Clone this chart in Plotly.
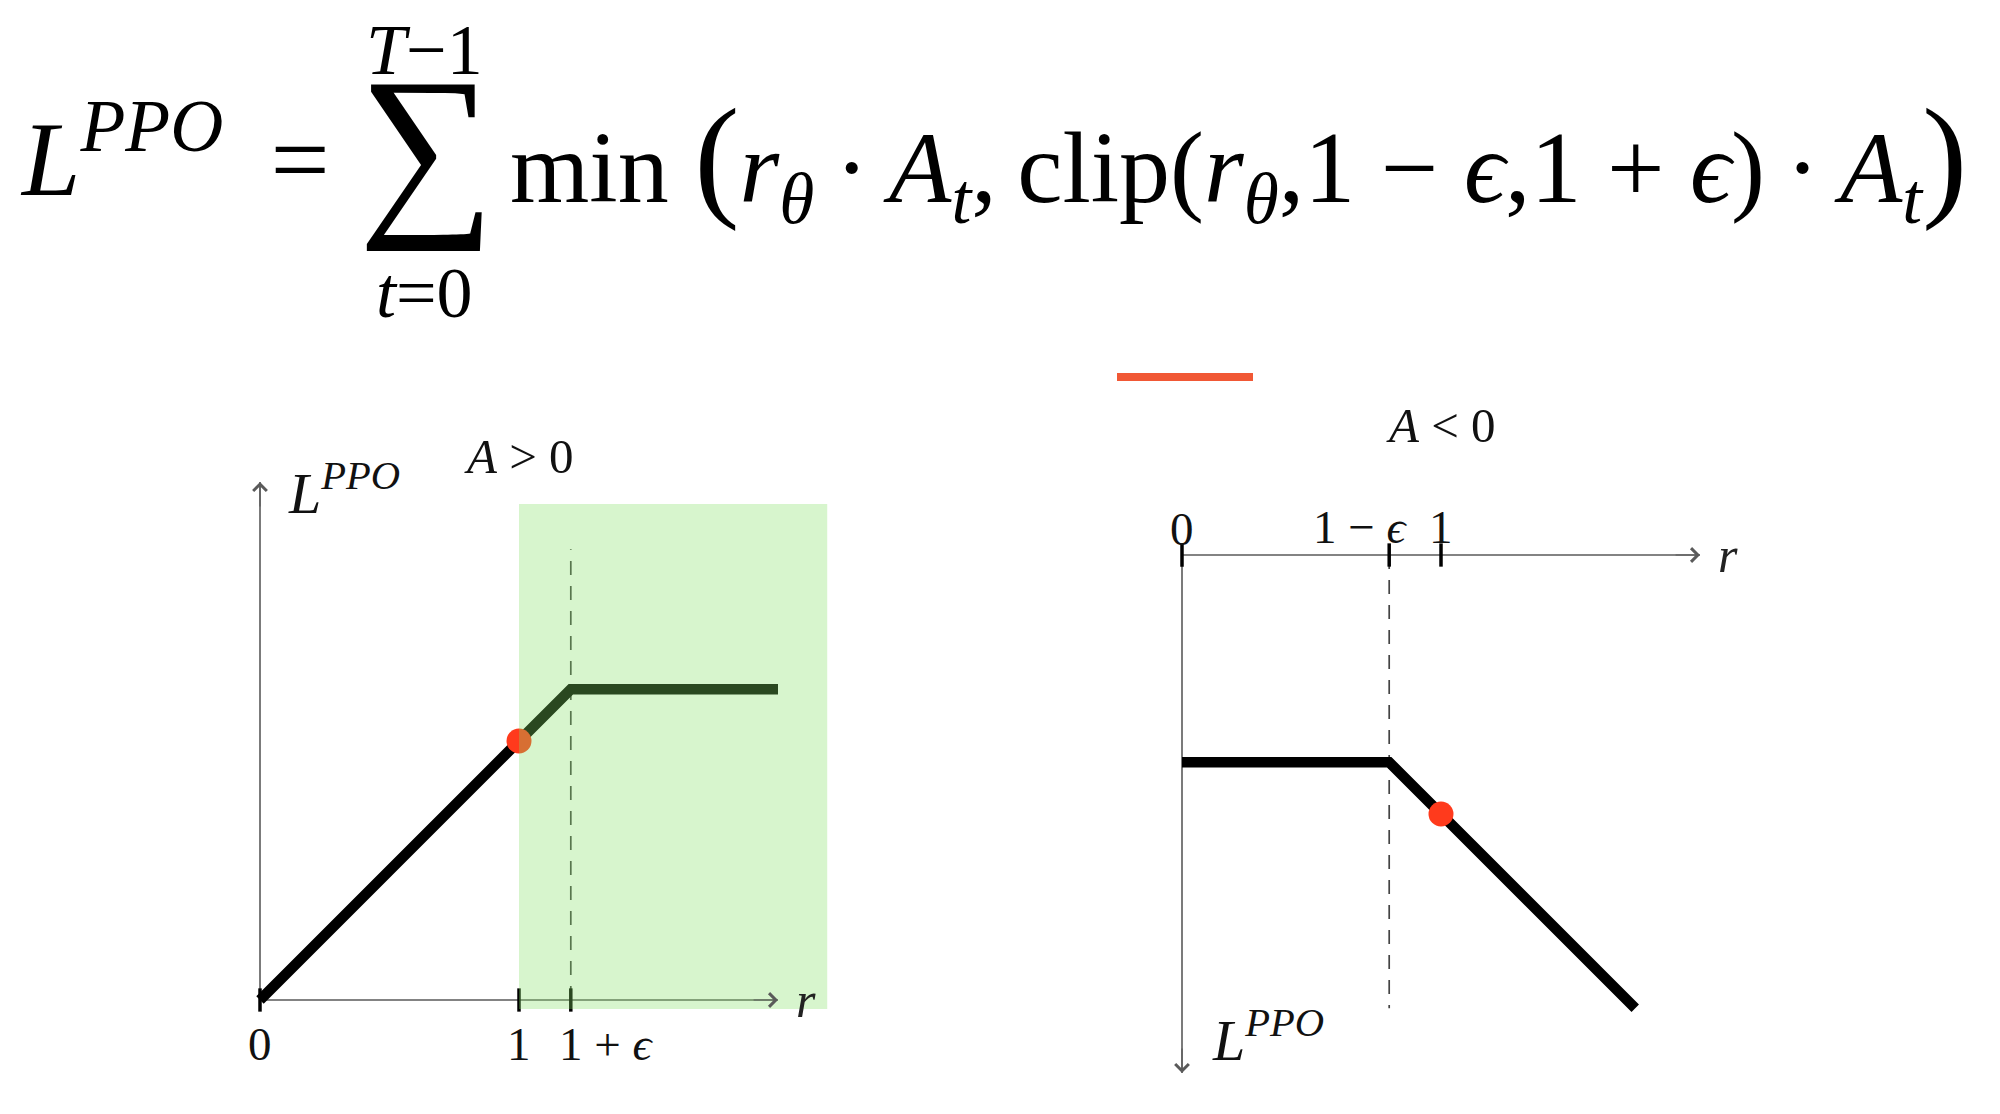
import plotly.graph_objects as go

W, H = 2000, 1114
EPS = 0.2

# ---------------- data ----------------
# Panel A > 0
pos_r = [0.0, 1.0 + EPS, 2.0]
pos_L = [0.0, 1.0 + EPS, 1.0 + EPS]
pos_point_r = [1.0]
pos_point_L = [1.0]
pos_ticks = [0.0, 1.0, 1.0 + EPS]
pos_tick_labels = ["0", "1", "1 + <i>ϵ</i>"]
pos_axis_r = [0.0, 2.0]
pos_axis_L = [0.0, 2.0]
pos_dash_L = [0.0, 1.74]
pos_region_r = [1.0, 2.19]
pos_region_L = [-0.035, 1.915]

# Panel A < 0
neg_r = [0.0, 1.0 - EPS, 1.75]
neg_L = [-(1.0 - EPS), -(1.0 - EPS), -1.75]
neg_point_r = [1.0]
neg_point_L = [-1.0]
neg_ticks = [0.0, 1.0 - EPS, 1.0]
neg_tick_labels = ["0", "1 − <i>ϵ</i>", "1"]
neg_axis_r = [0.0, 2.0]
neg_axis_L = [0.0, -2.0]
neg_dash_L = [0.0, -1.75]

# ---------------- geometry helpers ----------------
S = 259.0  # pixels per unit


def xdom(px0, rng):
    return [(px0 + rng[0] * S) / W, (px0 + rng[1] * S) / W]


def ydom(py0, rng):
    return [1 - (py0 - rng[0] * S) / H, 1 - (py0 - rng[1] * S) / H]


def PX(x):
    return x / W


def PY(y):
    return 1 - y / H


L_X0, L_Y0 = 260, 1000
R_X0, R_Y0 = 1182, 555
lx_rng, ly_rng = [-0.5, 2.8], [-0.42, 2.35]
rx_rng, ry_rng = [-0.5, 2.8], [-2.1, 0.6]

AX = "#5a5a5a"
SERIF = "Liberation Serif"
LW = 10.5

fig = go.Figure()

# ---- left panel traces ----
fig.add_trace(go.Scatter(x=pos_axis_r, y=[0, 0], mode="lines", line=dict(color=AX, width=1.6),
                         xaxis="x", yaxis="y", hoverinfo="skip"))
fig.add_trace(go.Scatter(x=[0, 0], y=pos_axis_L, mode="lines", line=dict(color=AX, width=1.6),
                         xaxis="x", yaxis="y", hoverinfo="skip"))
fig.add_trace(go.Scatter(x=[1 + EPS, 1 + EPS], y=pos_dash_L, mode="lines",
                         line=dict(color="#444444", width=1.7, dash="14px,11px"),
                         xaxis="x", yaxis="y", hoverinfo="skip"))
for t in pos_ticks:
    fig.add_trace(go.Scatter(x=[t, t], y=[-0.045, 0.045], mode="lines",
                             line=dict(color="black", width=3.5), xaxis="x", yaxis="y", hoverinfo="skip"))
fig.add_trace(go.Scatter(x=pos_r, y=pos_L, mode="lines", line=dict(color="black", width=LW),
                         xaxis="x", yaxis="y", hoverinfo="skip"))
fig.add_trace(go.Scatter(x=pos_point_r, y=pos_point_L, mode="markers",
                         marker=dict(color="#ff3a1c", size=25), xaxis="x", yaxis="y", hoverinfo="skip"))

# ---- right panel traces ----
fig.add_trace(go.Scatter(x=neg_axis_r, y=[0, 0], mode="lines", line=dict(color=AX, width=1.6),
                         xaxis="x2", yaxis="y2", hoverinfo="skip"))
fig.add_trace(go.Scatter(x=[0, 0], y=neg_axis_L, mode="lines", line=dict(color=AX, width=1.6),
                         xaxis="x2", yaxis="y2", hoverinfo="skip"))
fig.add_trace(go.Scatter(x=[1 - EPS, 1 - EPS], y=neg_dash_L, mode="lines",
                         line=dict(color="#444444", width=1.7, dash="14px,11px"),
                         xaxis="x2", yaxis="y2", hoverinfo="skip"))
for t in neg_ticks:
    fig.add_trace(go.Scatter(x=[t, t], y=[-0.045, 0.045], mode="lines",
                             line=dict(color="black", width=3.5), xaxis="x2", yaxis="y2", hoverinfo="skip"))
fig.add_trace(go.Scatter(x=neg_r, y=neg_L, mode="lines", line=dict(color="black", width=LW),
                         xaxis="x2", yaxis="y2", hoverinfo="skip"))
fig.add_trace(go.Scatter(x=neg_point_r, y=neg_point_L, mode="markers",
                         marker=dict(color="#ff3a1c", size=25), xaxis="x2", yaxis="y2", hoverinfo="skip"))

# ---- shapes ----
shapes = [
    dict(type="rect", xref="x", yref="y", x0=pos_region_r[0], x1=pos_region_r[1],
         y0=pos_region_L[0], y1=pos_region_L[1], fillcolor="rgba(131,225,100,0.32)",
         line=dict(width=0), layer="above"),
    dict(type="line", xref="paper", yref="paper", x0=PX(1117), x1=PX(1253), y0=PY(377), y1=PY(377),
         line=dict(color="#f04a24", width=8), opacity=0.92),
]

# ---- annotations ----
ann = []


def arrow(xr, yr, hx, hy, tx, ty):
    ann.append(dict(xref=xr, yref=yr, axref=xr, ayref=yr, x=hx, y=hy, ax=tx, ay=ty, text="",
                    showarrow=True, arrowhead=4, arrowsize=2.2, arrowwidth=1.2, arrowcolor=AX))


arrow("x", "y", pos_axis_r[1], 0, pos_axis_r[1] - 0.1, 0)
arrow("x", "y", 0, pos_axis_L[1], 0, pos_axis_L[1] - 0.1)
arrow("x2", "y2", neg_axis_r[1], 0, neg_axis_r[1] - 0.1, 0)
arrow("x2", "y2", 0, neg_axis_L[1], 0, neg_axis_L[1] + 0.1)

lab_font = dict(family=SERIF, size=47, color="#111111")
NB = "\u00a0"
TS = "\u2009"
HS = "\u200a"

# left tick labels
ann.append(dict(xref="x", yref="y", x=pos_ticks[0], y=-0.17, text=pos_tick_labels[0], showarrow=False,
                font=lab_font, xanchor="center", yanchor="middle"))
ann.append(dict(xref="x", yref="y", x=pos_ticks[1], y=-0.17, text=pos_tick_labels[1], showarrow=False,
                font=lab_font, xanchor="center", yanchor="middle"))
ann.append(dict(xref="x", yref="y", x=pos_ticks[2], y=-0.17, text=pos_tick_labels[2], showarrow=False,
                font=lab_font, xanchor="left", yanchor="middle", xshift=-14))
# right tick labels
ann.append(dict(xref="x2", yref="y2", x=neg_ticks[0], y=0.1, text=neg_tick_labels[0], showarrow=False,
                font=lab_font, xanchor="center", yanchor="middle"))
ann.append(dict(xref="x2", yref="y2", x=0.69, y=0.11, text=neg_tick_labels[1], showarrow=False,
                font=lab_font, xanchor="center", yanchor="middle"))
ann.append(dict(xref="x2", yref="y2", x=neg_ticks[2], y=0.11, text=neg_tick_labels[2], showarrow=False,
                font=lab_font, xanchor="center", yanchor="middle"))

# r labels
ann.append(dict(xref="x", yref="y", x=2.06, y=0.0, text="<i>r</i>", showarrow=False,
                font=dict(family=SERIF, size=50, color="#222"), xanchor="left", yanchor="middle"))
ann.append(dict(xref="x2", yref="y2", x=2.06, y=0.0, text="<i>r</i>", showarrow=False,
                font=dict(family=SERIF, size=50, color="#222"), xanchor="left", yanchor="middle"))

# titles
ann.append(dict(xref="x", yref="y", x=1.0, y=2.1, text=f"<i>A</i>{NB}>{NB}0", showarrow=False,
                font=dict(family=SERIF, size=49, color="#111"), xanchor="center", yanchor="middle"))
ann.append(dict(xref="x2", yref="y2", x=1.0, y=0.5, text=f"<i>A</i>{NB}<{NB}0", showarrow=False,
                font=dict(family=SERIF, size=49, color="#111"), xanchor="center", yanchor="middle"))

# L^PPO labels
lp_font = dict(family=SERIF, size=58, color="#111111")
ann.append(dict(xref="x", yref="y", x=0.1, y=1.97, text="<i>L</i><sup><i>PPO</i></sup>", showarrow=False,
                font=lp_font, xanchor="left", yanchor="middle"))
ann.append(dict(xref="x2", yref="y2", x=0.11, y=-1.86, text="<i>L</i><sup><i>PPO</i></sup>", showarrow=False,
                font=lp_font, xanchor="left", yanchor="middle"))

# ---- formula ----
F = 102
ff = dict(family=SERIF, size=F, color="black")
ann.append(dict(xref="paper", yref="paper", x=PX(18), y=PY(152),
                text=f"<i>L</i><sup><i>PPO</i></sup>{NB}{TS}=", showarrow=False,
                font=dict(family=SERIF, size=105, color="black"),
                xanchor="left", yanchor="middle"))
ann.append(dict(xref="paper", yref="paper", x=PX(426), y=PY(146), text="∑", showarrow=False,
                font=dict(family=SERIF, size=192, color="black"), xanchor="center", yanchor="middle"))
ann.append(dict(xref="paper", yref="paper", x=PX(424), y=PY(50), text="<i>T</i>−1", showarrow=False,
                font=dict(family=SERIF, size=72, color="black"), xanchor="center", yanchor="middle"))
ann.append(dict(xref="paper", yref="paper", x=PX(424), y=PY(293), text="<i>t</i>=0", showarrow=False,
                font=dict(family=SERIF, size=72, color="black"), xanchor="center", yanchor="middle"))
BIGL = '<span style="font-size:136px">(</span>'
BIGR = '<span style="font-size:136px">)</span>'
main = (f"min {BIGL}<i>r</i><sub><i>θ</i></sub>{TS}·{TS}<i>A</i><sub><i>t</i></sub>,{TS}"
        f"clip(<i>r</i><sub><i>θ</i></sub>,1 − <i>ϵ</i>,1 + <i>ϵ</i>){TS}·{TS}<i>A</i><sub><i>t</i></sub>{BIGR}")
ann.append(dict(xref="paper", yref="paper", x=PX(508), y=PY(160), text=main, showarrow=False, font=ff,
                xanchor="left", yanchor="middle"))

ax_common = dict(visible=False, showgrid=False, zeroline=False, fixedrange=True)
fig.update_layout(
    width=W, height=H, autosize=False,
    margin=dict(l=0, r=0, t=0, b=0),
    paper_bgcolor="white", plot_bgcolor="rgba(0,0,0,0)",
    showlegend=False,
    xaxis=dict(domain=xdom(L_X0, lx_rng), range=lx_rng, anchor="y", **ax_common),
    yaxis=dict(domain=ydom(L_Y0, ly_rng), range=ly_rng, anchor="x", **ax_common),
    xaxis2=dict(domain=xdom(R_X0, rx_rng), range=rx_rng, anchor="y2", **ax_common),
    yaxis2=dict(domain=ydom(R_Y0, ry_rng), range=ry_rng, anchor="x2", **ax_common),
    shapes=shapes,
    annotations=ann,
)

fig.write_html("out.html", config={"displayModeBar": False},
               post_script="document.body.style.margin='0';")
